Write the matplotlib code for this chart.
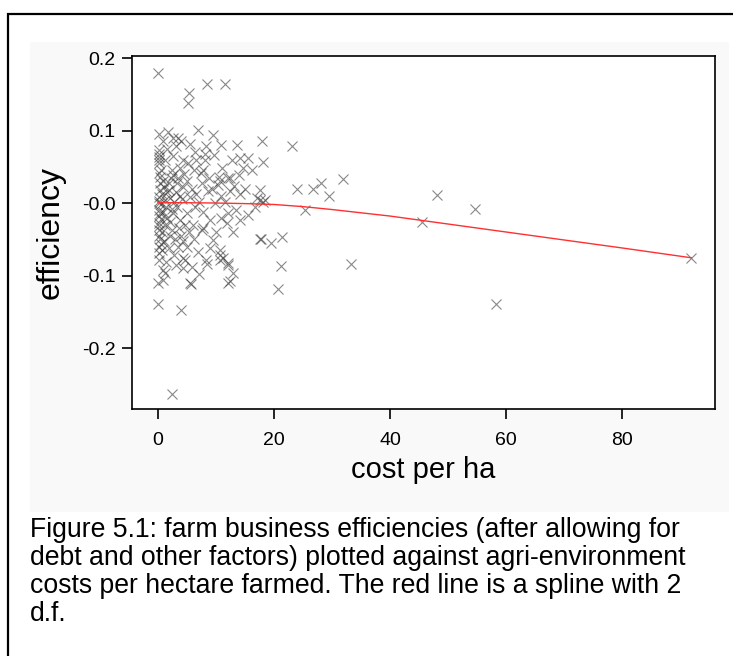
import matplotlib
matplotlib.use("Agg")
import matplotlib.pyplot as plt
from matplotlib.patches import Rectangle

plt.rcParams['font.family'] = ['Liberation Sans', 'DejaVu Sans']

# ---- data ----
cost = [
    0.0, 5.3, 5.1, 8.5, 11.5,
    0.1, 1.7, 2.6, 3.4, 6.9, 9.5, 8.2, 10.8, 13.6, 17.9, 23.1,
    6.3, 4.3, 0.1, 0.2, 0.1, 1.2, 2.3, 14.1, 15.5, 18.0, 7.8, 8.1, 7.4, 12.1,
    14.7, 16.1, 10.4, 14.0,
    0.3, 2.6, 10.3, 8.6, 4.3, 5.5, 17.0, 18.0, 0.3, 0.2, 0.1, 0.2, 0.1, 0.2,
    0.1, 0.2, 0.1, 0.2, 0.1, 0.9, 0.9, 1.4, 2.6, 3.7, 2.3, 2.9, 3.9, 4.9, 4.3,
    4.3, 5.5, 6.9, 8.3, 8.4, 7.5, 7.8, 9.5, 10.6, 11.2, 12.1, 12.9, 12.4, 11.8,
    12.9, 14.1, 13.5, 12.1, 15.5, 16.7, 17.5, 19.4, 6.3, 7.8, 8.9, 6.0, 9.8,
    10.9, 12.4, 14.1, 14.9, 7.5, 3.2, 2.0, 3.7, 3.2, 4.9, 1.9, 10.6,
    0.0, 5.6, 12.0, 0.0, 3.9, 2.3,
    17.7, 21.4, 21.2, 20.7, 25.3, 1.2, 10.6, 12.1, 4.6, 12.4, 10.6,
    17.5, 23.9, 26.7, 28.1, 29.4, 31.9, 18.4, 17.5, 33.3, 45.4, 48.0, 54.6,
    58.3, 91.9,
    0.5, 0.8, 1.0, 0.6, 1.1, 0.4, 0.9, 0.5, 1.2, 0.7, 1.0, 0.5, 1.5, 1.8, 2.2,
    1.6, 2.0, 2.4, 2.8, 3.0, 3.5, 3.8, 4.5, 5.0, 5.8, 6.5, 7.0, 6.1, 5.2, 4.1,
    4.6, 5.3, 6.2, 3.4, 2.7, 1.8, 1.4, 3.1, 5.9, 7.1, 9.0, 9.9, 10.8, 11.5,
    9.2, 11.0, 9.6, 12.8, 8.8, 13.0, 0.3, 0.2, 0.3, 0.2, 0.3, 0.1, 0.2, 0.1,
    1.5, 2.5, 3.0, 4.0, 5.5, 6.6, 8.0, 0.6, 0.8, 2.1, 3.6, 4.2,
]
efficiency = [
    0.180, 0.152, 0.138, 0.164, 0.164,
    0.095, 0.098, 0.089, 0.089, 0.101, 0.094, 0.079, 0.080, 0.080, 0.085, 0.079,
    0.071, 0.059, 0.073, 0.064, 0.055, 0.059, 0.046, 0.062, 0.062, 0.057, 0.046,
    0.059, 0.041, 0.035,
    0.048, 0.045, 0.036, 0.039,
    0.036, 0.039, 0.025, 0.016, 0.0225, 0.0087, 0.0065, 0.002, 0.018, 0.0087,
    0.0, -0.009, -0.018, -0.028, -0.037, -0.046, -0.060, -0.0695, -0.079,
    -0.092, -0.106, -0.005, -0.014, -0.023, -0.037, -0.049, -0.046, -0.060,
    -0.076, -0.090, -0.111, -0.067, -0.079, -0.084, -0.037, -0.034, -0.051,
    -0.065, -0.076, -0.086, -0.097, -0.108, -0.028, -0.040, -0.023, -0.010,
    -0.014, -0.017, -0.005, -0.049, -0.055, -0.005, -0.012, -0.023, -0.030,
    0.0, 0.009, 0.016, 0.012, 0.020, 0.028, 0.027, 0.0065, 0.009, -0.005,
    -0.014, 0.018, -0.079,
    -0.110, -0.112, -0.110, -0.139, -0.147, -0.263,
    -0.049, -0.047, -0.0865, -0.118, -0.0097, -0.096, -0.072, -0.083, -0.078,
    0.034, 0.030,
    0.018, 0.020, 0.020, 0.027, 0.0097, 0.0327, 0.004, 0.004, -0.084, -0.0265,
    0.0106, -0.0088, -0.139, -0.0753,
    0.045, 0.030, 0.022, 0.012, 0.004, -0.002, -0.012, -0.022, -0.030, -0.040,
    -0.052, -0.056, 0.015, 0.028, 0.035, -0.020, -0.026, -0.008, 0.002, 0.015,
    0.035, 0.048, 0.040, 0.030, 0.020, 0.012, 0.002, 0.045, 0.055, 0.005,
    -0.030, -0.040, -0.050, -0.060, -0.072, -0.062, -0.082, -0.085, -0.088,
    -0.098, -0.062, -0.040, -0.020, 0.002, 0.020, 0.048, 0.066, 0.060, 0.035,
    0.024, 0.027, 0.003, -0.014, -0.032, -0.050, 0.042, 0.060, 0.068,
    0.075, 0.065, 0.078, 0.085, 0.082, 0.060, 0.068, -0.065, 0.085, -0.045,
    -0.035, -0.052,
]

# fitted spline (2 d.f.)
spline_x = [0, 5, 10, 15, 20, 25, 30, 40, 50, 60, 70, 80, 91.9]
spline_y = [0.0005, 0.0004, 0.0, -0.0008, -0.002, -0.005, -0.009, -0.018,
            -0.029, -0.040, -0.051, -0.062, -0.0755]

xticks = [0, 20, 40, 60, 80]
yticks = [0.2, 0.1, 0.0, -0.1, -0.2]
ytick_labels = ["0.2", "0.1", "-0.0", "-0.1", "-0.2"]

caption_lines = [
    "Figure 5.1: farm business efficiencies (after allowing for",
    "debt and other factors) plotted against agri-environment",
    "costs per hectare farmed. The red line is a spline with 2",
    "d.f.",
]

# ---- figure ----
W, H = 733, 656
fig = plt.figure(figsize=(W / 100, H / 100), dpi=100)

def fx(px):
    return px / W

def fy(py):
    return 1 - py / H

# outer document frame and faint image background
fig.patches.append(Rectangle((fx(30), fy(512)), fx(729) - fx(30), fy(42) - fy(512),
                             transform=fig.transFigure, facecolor='#f9f9f9',
                             edgecolor='none', zorder=-5))
fig.patches.append(Rectangle((fx(8), fy(700)), fx(760) - fx(8), fy(14) - fy(700),
                             transform=fig.transFigure, facecolor='none',
                             edgecolor='black', linewidth=1.6, zorder=-4))

ax = fig.add_axes([fx(131.5), fy(409), fx(715) - fx(131.5), fy(55.7) - fy(409)])
ax.set_zorder(2)
ax.set_facecolor('white')

ax.plot(cost, efficiency, linestyle='none', marker='x', markersize=7.5,
        markeredgewidth=0.8, color='#3a3a3a', alpha=0.6)
ax.plot(spline_x, spline_y, color='#ff3030', linewidth=1.0)

ax.set_xlim(-4.6, 96.0)
ax.set_ylim(-0.2841, 0.2032)
ax.set_xticks(xticks)
ax.set_xticklabels([str(t) for t in xticks])
ax.set_yticks(yticks)
ax.set_yticklabels(ytick_labels)

for s in ax.spines.values():
    s.set_linewidth(1.2)
ax.tick_params(axis='both', direction='out', length=7.5, width=1.2, labelsize=14)
ax.tick_params(axis='x', pad=9)
ax.tick_params(axis='y', pad=4)

ax.set_xlabel("cost per ha", fontsize=21, labelpad=5)
ax.set_ylabel("efficiency", fontsize=23, labelpad=12)

for i, line in enumerate(caption_lines):
    fig.text(fx(30), fy(530 + i * 28), line, fontsize=19.2, va='center',
             ha='left', color='black', zorder=3)

fig.savefig("out.png", dpi=100)
